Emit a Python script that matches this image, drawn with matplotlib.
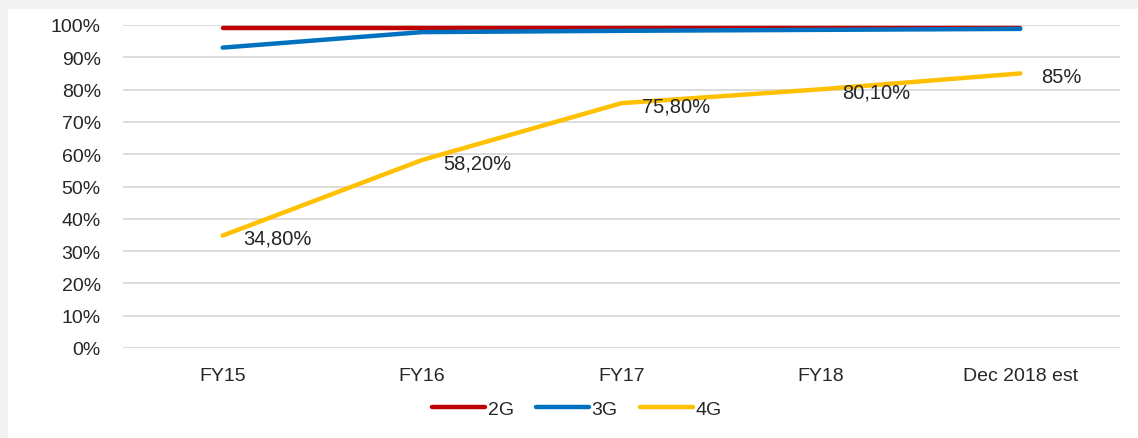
import matplotlib.pyplot as plt
from matplotlib.patches import Rectangle

categories = ['FY15', 'FY16', 'FY17', 'FY18', 'Dec 2018 est']
g2 = [99.2, 99.2, 99.2, 99.2, 99.2]
g3 = [93.0, 97.8, 98.2, 98.5, 98.8]
g4 = [34.8, 58.2, 75.8, 80.1, 85.0]
g4_labels = ['34,80%', '58,20%', '75,80%', '80,10%', '85%']

plt.rcParams['font.family'] = ['Liberation Sans', 'DejaVu Sans']

fig = plt.figure(figsize=(11.38, 4.39), dpi=100)
fig.patch.set_facecolor('#f2f3f2')
# white panel, gray strip only on left and top
fig.add_artist(Rectangle((8 / 1138, 0), 1, 1 - 10 / 439, transform=fig.transFigure,
                         facecolor='white', edgecolor='none', zorder=0))

ax = fig.add_axes([123 / 1138, 90 / 439, (1120 - 123) / 1138, (349 - 26) / 439])
ax.set_facecolor('none')

x = list(range(len(categories)))
ax.plot(x, g2, color='#c00000', lw=3.2, solid_capstyle='round', label='2G', zorder=3)
ax.plot(x, g3, color='#0070c0', lw=3.2, solid_capstyle='round', label='3G', zorder=4)
ax.plot(x, g4, color='#ffc000', lw=3.2, solid_capstyle='round', label='4G', zorder=3)

for xi, v, lab in zip(x, g4, g4_labels):
    ax.annotate(lab, (xi, v), xytext=(15, -2), textcoords='offset points',
                ha='left', va='center', fontsize=14.5, color='#262626', zorder=5)

ax.set_xlim(-0.5, len(categories) - 0.5)
ax.set_ylim(0, 100)
ax.set_yticks(range(0, 101, 10))
ax.set_yticklabels([f'{v}%' for v in range(0, 101, 10)])
ax.set_xticks(x)
ax.set_xticklabels(categories)
ax.tick_params(axis='both', length=0, labelsize=14, colors='#262626')
ax.tick_params(axis='y', pad=16)
ax.tick_params(axis='x', pad=14)
ax.grid(axis='y', color='#d9d9d9', lw=1.3)
ax.set_axisbelow(True)
for s in ax.spines.values():
    s.set_visible(False)

fig.legend(loc='center', bbox_to_anchor=(577 / 1138, 1 - 410 / 439), ncol=3,
           frameon=False, fontsize=14, handlelength=2.7, handletextpad=0.15,
           columnspacing=1.15, labelcolor='#262626')

fig.savefig('out.png', dpi=100, facecolor=fig.get_facecolor())
